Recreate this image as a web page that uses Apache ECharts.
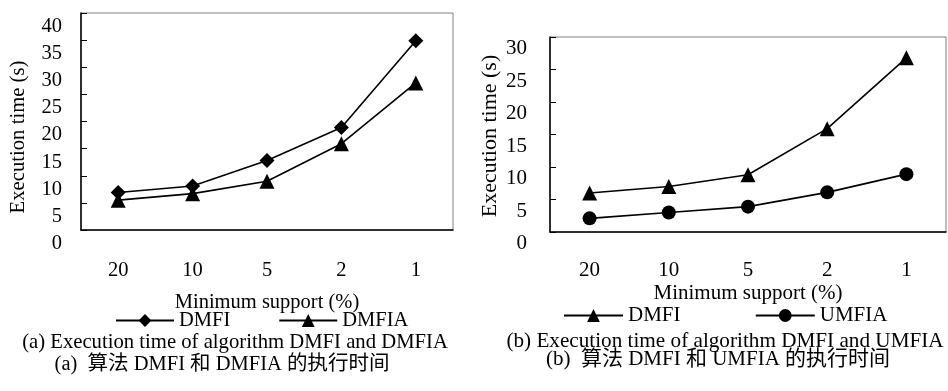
<!DOCTYPE html>
<html>
<head>
<meta charset="utf-8">
<script src="https://cdn.jsdelivr.net/npm/echarts@6/dist/echarts.min.js"></script>
<style>
html,body{margin:0;padding:0;background:#fff;}
#chart{width:948px;height:391px;}
</style>
</head>
<body>
<div id="chart"></div>
<script>
// ---- data ----
const categories = ['20', '10', '5', '2', '1'];
const dmfiA = [6.9, 8.1, 12.8, 18.9, 34.9];
const dmfiaA = [5.5, 6.7, 9.0, 15.9, 27.1];
const dmfiB = [6.0, 7.0, 8.8, 15.9, 26.8];
const umfiaB = [2.1, 3.0, 3.9, 6.1, 8.9];
const yMaxA = 40, yMaxB = 30, yStep = 5;
const xName = 'Minimum support (%)';
const yName = 'Execution time (s)';

const FONT = '"Liberation Serif", "Times New Roman", serif';
const CJK = '"Liberation Serif", "Noto Sans CJK SC", serif';
const FS = [20.5, 21];

function xAxis(gi) {
  return {
    type: 'category', gridIndex: gi, data: categories, boundaryGap: true,
    name: xName, nameLocation: 'middle', nameGap: gi === 0 ? 62 : 51,
    nameTextStyle: {fontFamily: FONT, fontSize: FS[gi], color: '#000'},
    axisLine: {lineStyle: {color: '#000', width: 1.5}},
    axisTick: {inside: true, length: 6, lineStyle: {color: '#000', width: 1}},
    axisLabel: {fontFamily: FONT, fontSize: FS[gi], color: '#000', margin: gi === 0 ? 30 : 28},
    splitLine: {show: false}
  };
}
function yAxis(gi, max) {
  return {
    type: 'value', gridIndex: gi, min: 0, max: max, interval: yStep,
    axisLine: {show: true, lineStyle: {color: '#000', width: 1.5}},
    axisTick: {show: true, inside: true, length: 6, lineStyle: {color: '#000', width: 1}},
    axisLabel: {fontFamily: FONT, fontSize: FS[gi], color: '#000', margin: gi === 0 ? 19 : 23,
                verticalAlign: 'top', padding: [gi === 0 ? 3 : 1, 0, 0, 0]},
    splitLine: {show: false}
  };
}
function lineSeries(name, data, gi, symbol, size) {
  return {
    name: name, type: 'line', xAxisIndex: gi, yAxisIndex: gi, data: data,
    symbol: symbol, symbolSize: size, showAllSymbol: true,
    lineStyle: {color: '#000', width: 1.6},
    itemStyle: {color: '#000'},
    emphasis: {disabled: true}
  };
}

const chart = echarts.init(document.getElementById('chart'), null, {renderer: 'canvas'});
chart.setOption({
  backgroundColor: '#fff',
  animation: false,
  grid: [
    {left: 81, right: 495, top: 13, bottom: 161, show: true, borderColor: '#808080', borderWidth: 1, backgroundColor: 'transparent'},
    {left: 550, right: 2, top: 37, bottom: 159, show: true, borderColor: '#808080', borderWidth: 1, backgroundColor: 'transparent'}
  ],
  xAxis: [xAxis(0), xAxis(1)],
  yAxis: [yAxis(0, yMaxA), yAxis(1, yMaxB)],
  legend: [
    {data: ['DMFI', 'DMFIA'], left: 115, top: 310, padding: 0, itemWidth: 58, itemHeight: 16, itemGap: 48,
     textStyle: {fontFamily: FONT, fontSize: FS[0], color: '#000'}, selectedMode: false},
    {data: ['DMFI ', 'UMFIA'], left: 563, top: 305, padding: 0, itemWidth: 59, itemHeight: 16, itemGap: 69,
     textStyle: {fontFamily: FONT, fontSize: FS[1], color: '#000'}, selectedMode: false}
  ],
  series: [
    lineSeries('DMFI', dmfiA, 0, 'diamond', 15),
    lineSeries('DMFIA', dmfiaA, 0, 'triangle', 15),
    lineSeries('DMFI ', dmfiB, 1, 'triangle', 15),
    lineSeries('UMFIA', umfiaB, 1, 'circle', 14)
  ],
  graphic: [
    {type: 'text', x: 19, y: 137, rotation: Math.PI / 2,
     style: {text: yName, font: '20.7px ' + FONT, fill: '#000', align: 'center', verticalAlign: 'middle'}},
    {type: 'text', x: 490, y: 136, rotation: Math.PI / 2,
     style: {text: yName, font: '22px ' + FONT, fill: '#000', align: 'center', verticalAlign: 'middle'}},
    {type: 'text', x: 235, y: 343, style: {text: '(a) Execution time of algorithm DMFI and DMFIA', font: '20.7px ' + FONT, fill: '#000', align: 'center', verticalAlign: 'middle'}},
    {type: 'text', x: 222, y: 365, style: {text: '(a)  算法 DMFI 和 DMFIA 的执行时间', font: '20.5px ' + CJK, fill: '#000', align: 'center', verticalAlign: 'middle'}},
    {type: 'text', x: 725, y: 341, style: {text: '(b) Execution time of algorithm DMFI and UMFIA', font: '21.2px ' + FONT, fill: '#000', align: 'center', verticalAlign: 'middle'}},
    {type: 'text', x: 718, y: 359, style: {text: '(b)  算法 DMFI 和 UMFIA 的执行时间', font: '21px ' + CJK, fill: '#000', align: 'center', verticalAlign: 'middle'}}
  ]
});
</script>
</body>
</html>
